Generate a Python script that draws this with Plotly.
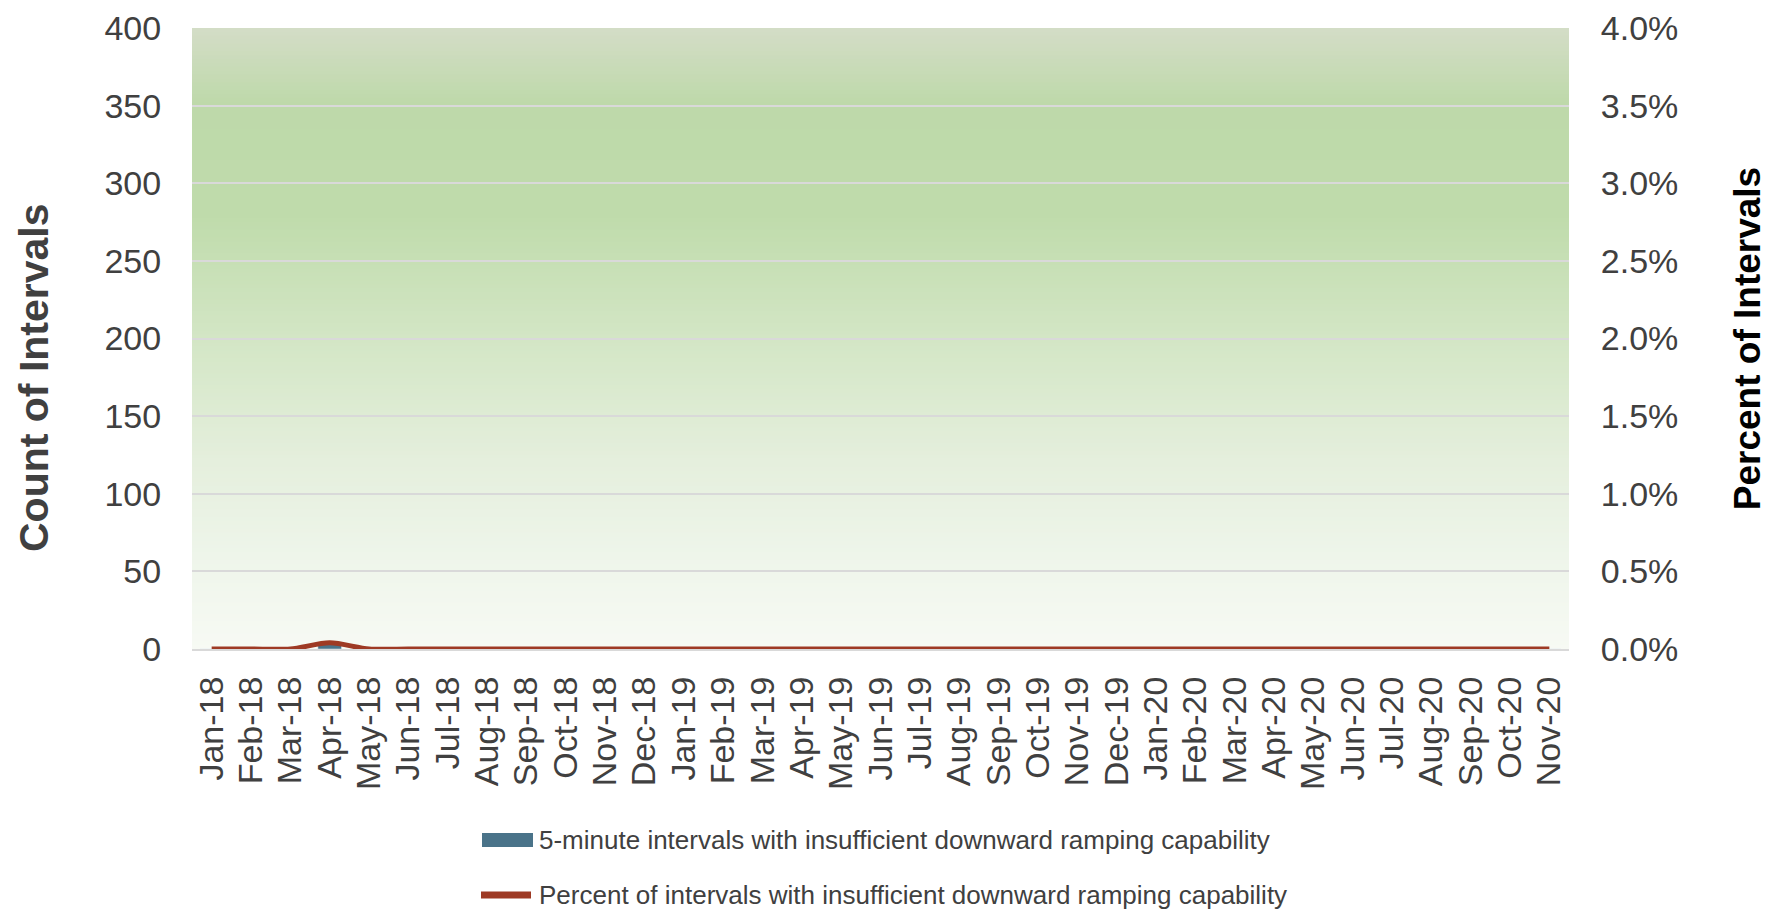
import plotly.graph_objects as go

months = ["Jan-18","Feb-18","Mar-18","Apr-18","May-18","Jun-18","Jul-18","Aug-18","Sep-18","Oct-18","Nov-18","Dec-18",
          "Jan-19","Feb-19","Mar-19","Apr-19","May-19","Jun-19","Jul-19","Aug-19","Sep-19","Oct-19","Nov-19","Dec-19",
          "Jan-20","Feb-20","Mar-20","Apr-20","May-20","Jun-20","Jul-20","Aug-20","Sep-20","Oct-20","Nov-20"]
count_intervals = [0, 0, 0, 4, 0] + [0] * 30
percent_intervals = [0.0, 0.0, 0.0, 0.0004, 0.0] + [0.0] * 30

bar_name = "5-minute intervals with insufficient downward ramping capability"
line_name = "Percent of intervals with insufficient downward ramping capability"
left_title = "Count of Intervals"
right_title = "Percent of Intervals"

FONT = "Liberation Sans, Arial, sans-serif"
TXT = "#404040"
BAR_COLOR = "#4a7389"
LINE_COLOR = "#9e3a24"

fig = go.Figure()
fig.add_trace(go.Bar(x=months, y=count_intervals, name=bar_name, marker_color=BAR_COLOR,
                     width=0.6, showlegend=False))
fig.add_trace(go.Scatter(x=months, y=percent_intervals, name=line_name, yaxis="y2", mode="lines",
                         line=dict(color=LINE_COLOR, width=5, shape="spline", smoothing=0.8),
                         showlegend=False))

# background gradient (decoration)
stops = [(0.0, (0xd4, 0xdd, 0xc7)), (0.12, (0xbe, 0xd9, 0xaa)), (0.3, (0xbf, 0xdb, 0xab)),
         (0.5, (0xd3, 0xe6, 0xc5)), (0.7, (0xe5, 0xef, 0xdd)), (0.85, (0xee, 0xf5, 0xea)),
         (1.0, (0xf7, 0xfa, 0xf4))]

def col(t):
    for (a, ca), (b, cb) in zip(stops[:-1], stops[1:]):
        if a <= t <= b:
            f = (t - a) / (b - a)
            return "rgb(%d,%d,%d)" % tuple(round(ca[i] + (cb[i] - ca[i]) * f) for i in range(3))
    return "rgb(247,250,244)"

N = 160
shapes = []
for i in range(N):
    t = (i + 0.5) / N
    y1 = 1 - i / N
    y0 = 1 - (i + 1) / N - 0.002
    shapes.append(dict(type="rect", xref="x domain", yref="y domain", x0=0, x1=1,
                       y0=max(y0, 0), y1=y1, fillcolor=col(t), line=dict(width=0), layer="below"))

# figure is placed at an 8px page offset; coordinates below are figure pixels
W, H = 1776, 901
ML, MR, MT, MB = 184, 215, 20, 260
PW, PH = W - ML - MR, H - MT - MB

def px(x):
    return (x - ML) / PW

def py(y):
    return (H - MB - y) / PH

shapes.append(dict(type="rect", xref="paper", yref="paper", x0=px(474), x1=px(525), y0=py(839), y1=py(825),
                   fillcolor=BAR_COLOR, line=dict(width=0)))
shapes.append(dict(type="line", xref="paper", yref="paper", x0=px(473), x1=px(523), y0=py(887), y1=py(887),
                   line=dict(color=LINE_COLOR, width=7)))
annotations = [
    dict(text=bar_name, xref="paper", yref="paper", x=px(529), y=py(832), xanchor="left", yanchor="middle",
         showarrow=False, font=dict(size=26, color=TXT)),
    dict(text=line_name, xref="paper", yref="paper", x=px(529), y=py(887), xanchor="left", yanchor="middle",
         showarrow=False, font=dict(size=26, color=TXT)),
    dict(text="<b>%s</b>" % left_title, xref="paper", yref="paper", x=px(26), y=py(370), xanchor="center",
         yanchor="middle", textangle=-90, showarrow=False, font=dict(size=41, color=TXT)),
]

fig.update_layout(
    width=W, height=H,
    margin=dict(l=ML, r=MR, t=MT, b=MB),
    paper_bgcolor="white", plot_bgcolor="rgba(0,0,0,0)",
    font=dict(family=FONT, color=TXT, size=34),
    shapes=shapes, annotations=annotations,
    bargap=0.4,
    showlegend=False,
    xaxis=dict(type="category", tickangle=-90, tickfont=dict(size=34, color=TXT),
               tickmode="array", tickvals=months, ticktext=months,
               showgrid=False, showline=True, linecolor="#d9d9d9", linewidth=2, ticks="outside",
               ticklen=12, tickcolor="rgba(0,0,0,0)", automargin=False, ticklabeloverflow="allow"),
    yaxis=dict(range=[0, 400], dtick=50, showgrid=True, gridcolor="#d9d9d9", gridwidth=2,
               tickfont=dict(size=34, color=TXT), zeroline=False, ticks="outside", ticklen=23,
               tickcolor="rgba(0,0,0,0)", automargin=False, ticklabeloverflow="allow"),
    yaxis2=dict(range=[0, 0.04], dtick=0.005, tickformat=".1%", overlaying="y", side="right",
                showgrid=False, zeroline=False, tickfont=dict(size=34, color=TXT),
                ticks="outside", ticklen=24, tickcolor="rgba(0,0,0,0)", automargin=False,
                ticklabeloverflow="allow",
                title=dict(text="<b>%s</b>" % right_title, font=dict(size=37, color="black"), standoff=56)),
)

fig.write_html("out.html")
